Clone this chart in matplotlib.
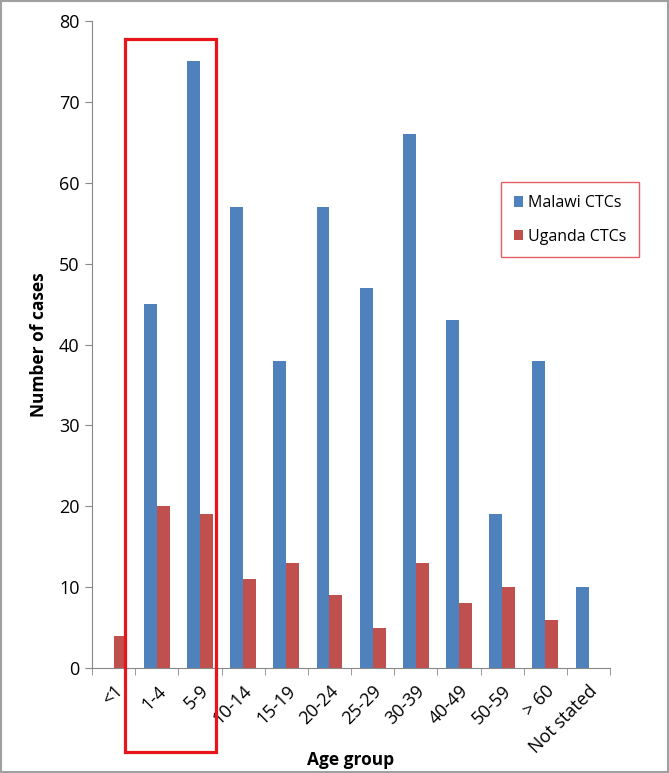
import numpy as np
import matplotlib.pyplot as plt
from matplotlib.patches import Rectangle

age_groups = ['<1', '1-4', '5-9', '10-14', '15-19', '20-24', '25-29',
              '30-39', '40-49', '50-59', '> 60', 'Not stated']
malawi = [0, 45, 75, 57, 38, 57, 47, 66, 43, 19, 38, 10]
uganda = [4, 20, 19, 11, 13, 9, 5, 13, 8, 10, 6, 0]

plt.rcParams['font.family'] = ['Open Sans', 'DejaVu Sans']

fig = plt.figure(figsize=(6.69, 7.73), dpi=100)
ax = fig.add_axes([0.1375, 0.1358, 0.7745, 0.837])

x = np.arange(len(age_groups))
w = 0.3
ax.bar(x - w / 2, malawi, w, color='#4F81BD', label='Malawi CTCs')
ax.bar(x + w / 2, uganda, w, color='#C0504D', label='Uganda CTCs')

ax.set_xlim(-0.5, len(age_groups) - 0.5)
ax.set_ylim(0, 80)
ax.set_yticks(range(0, 81, 10))
ax.tick_params(axis='y', labelsize=13, length=5, pad=4, color='#888888')

ax.set_xticks(x)
ax.set_xticklabels(age_groups, rotation=45, ha='right', rotation_mode='anchor', fontsize=13)
ax.tick_params(axis='x', which='major', length=0, pad=10)
ax.set_xticks(np.arange(-0.5, len(age_groups), 1), minor=True)
ax.tick_params(axis='x', which='minor', length=5, color='#888888')

for s in ['top', 'right']:
    ax.spines[s].set_visible(False)
for s in ['left', 'bottom']:
    ax.spines[s].set_color('#888888')

ax.set_xlabel('Age group', fontsize=12.5, fontweight='bold')
ax.xaxis.set_label_coords(0.5, -0.128)
ax.set_ylabel('Number of cases', fontsize=12.5, fontweight='bold')
ax.yaxis.set_label_coords(-0.084, 0.5)

leg = ax.legend(loc='upper left', bbox_to_anchor=(0.774, 0.763), fontsize=11.5,
                frameon=True, fancybox=False, handlelength=0.6, handleheight=0.6,
                handletextpad=0.3, labelspacing=1.1, borderpad=0.8)
leg.get_frame().set_edgecolor('#E0393E')
leg.get_frame().set_linewidth(1)

# red highlight box around the 1-4 and 5-9 groups
fig.patches.append(Rectangle((125 / 669, 1 - 752 / 773), 91 / 669, 713 / 773,
                             transform=fig.transFigure, fill=False,
                             edgecolor='#E8161B', linewidth=2.3))
# outer border
fig.patches.append(Rectangle((0.001, 0.001), 0.998, 0.998, transform=fig.transFigure,
                             fill=False, edgecolor='#A0A0A0', linewidth=1.5))

fig.savefig('out.png', dpi=100)
